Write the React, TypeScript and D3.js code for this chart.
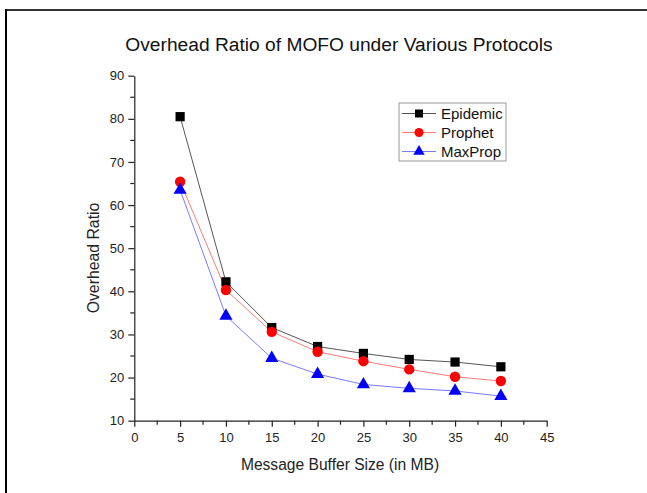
import React, { useEffect, useRef } from 'react';
import * as d3 from 'd3';

const bufferSizes = [5, 10, 15, 20, 25, 30, 35, 40];
const epidemic = [80.5, 42.2, 31.6, 27.2, 25.6, 24.2, 23.6, 22.5];
const prophet = [65.4, 40.3, 30.6, 26.0, 23.8, 21.9, 20.2, 19.2];
const maxProp = [63.5, 34.3, 24.5, 20.8, 18.4, 17.5, 16.9, 15.7];
const seriesNames = ['Epidemic', 'Prophet', 'MaxProp'];
const xTicks = [0, 5, 10, 15, 20, 25, 30, 35, 40, 45];
const yTicks = [10, 20, 30, 40, 50, 60, 70, 80, 90];

const App = () => {
  const ref = useRef<SVGSVGElement>(null);

  useEffect(() => {
    const svg = d3.select(ref.current);
    svg.selectAll('*').remove();
    const width = 647;
    const height = 493;
    const font = 'Liberation Sans, Arial, sans-serif';

    const x = d3.scaleLinear().domain([0, 45]).range([134.3, 546.7]);
    const y = d3.scaleLinear().domain([10, 90]).range([420.7, 75.7]);

    // outer frame (top + left only)
    svg.append('line').attr('x1', 5).attr('x2', width).attr('y1', 10).attr('y2', 10)
      .attr('stroke', '#333').attr('stroke-width', 2);
    svg.append('line').attr('x1', 6).attr('x2', 6).attr('y1', 9).attr('y2', height)
      .attr('stroke', '#000').attr('stroke-width', 2);

    svg.append('text').attr('x', 339).attr('y', 51).attr('text-anchor', 'middle')
      .attr('font-family', font).attr('font-size', 19.2).attr('fill', '#111')
      .text('Overhead Ratio of MOFO under Various Protocols');

    // minor ticks
    const g = svg.append('g').attr('stroke', '#222').attr('stroke-width', 1.2);
    d3.range(0, 45, 5).forEach((v) => {
      g.append('line').attr('x1', x(v + 2.5)).attr('x2', x(v + 2.5))
        .attr('y1', y(10)).attr('y2', y(10) + 4);
    });
    d3.range(10, 90, 10).forEach((v) => {
      g.append('line').attr('x1', x(0)).attr('x2', x(0) - 4)
        .attr('y1', y(v + 5)).attr('y2', y(v + 5));
    });

    const xAxis = svg.append('g').attr('transform', `translate(0,${y(10)})`)
      .call(d3.axisBottom(x).tickValues(xTicks).tickSize(6).tickSizeOuter(0).tickPadding(6));
    const yAxis = svg.append('g').attr('transform', `translate(${x(0)},0)`)
      .call(d3.axisLeft(y).tickValues(yTicks).tickSize(6).tickSizeOuter(0).tickPadding(4));
    [xAxis, yAxis].forEach((a) => {
      a.selectAll('text').attr('font-family', font).attr('font-size', 13).attr('fill', '#222');
      a.selectAll('line, path').attr('stroke', '#222').attr('stroke-width', 1.2);
    });

    svg.append('text').attr('x', 340).attr('y', 470).attr('text-anchor', 'middle')
      .attr('font-family', font).attr('font-size', 15.6).attr('fill', '#222')
      .text('Message Buffer Size (in MB)');
    svg.append('text').attr('transform', `translate(99,258) rotate(-90)`).attr('text-anchor', 'middle')
      .attr('font-family', font).attr('font-size', 15.8).attr('fill', '#222')
      .text('Overhead Ratio');

    const series = [
      { name: seriesNames[0], values: epidemic, line: '#555', fill: '#000', shape: d3.symbolSquare, size: 85 },
      { name: seriesNames[1], values: prophet, line: '#ff7a7a', fill: '#ff0000', shape: d3.symbolCircle, size: 85 },
      { name: seriesNames[2], values: maxProp, line: '#7a7aff', fill: '#0000ff', shape: d3.symbolTriangle, size: 75 },
    ];

    const line = d3.line<number>().x((d, i) => x(bufferSizes[i])).y((d) => y(d));

    series.forEach((s) => {
      svg.append('path').attr('d', line(s.values)).attr('fill', 'none')
        .attr('stroke', s.line).attr('stroke-width', 1);
    });
    series.forEach((s) => {
      svg.selectAll(null).data(s.values).enter().append('path')
        .attr('d', d3.symbol().type(s.shape).size(s.size)())
        .attr('transform', (d, i) => `translate(${x(bufferSizes[i])},${y(d)})`)
        .attr('fill', s.fill);
    });

    // legend
    const legend = svg.append('g').attr('transform', 'translate(399,103)');
    legend.append('rect').attr('width', 107).attr('height', 58)
      .attr('fill', '#fff').attr('stroke', '#999').attr('stroke-width', 1);
    series.forEach((s, i) => {
      const row = legend.append('g').attr('transform', `translate(0,${10.5 + i * 19})`);
      row.append('line').attr('x1', 3).attr('x2', 37).attr('stroke', s.line).attr('stroke-width', 1);
      row.append('path').attr('d', d3.symbol().type(s.shape).size(s.size * 0.75)())
        .attr('transform', 'translate(20,0)').attr('fill', s.fill);
      row.append('text').attr('x', 42).attr('dy', '0.35em')
        .attr('font-family', font).attr('font-size', 15).attr('fill', '#111').text(s.name);
    });
  }, []);

  return (
    <svg ref={ref} width={647} height={493}
      style={{ position: 'absolute', left: 0, top: 0, background: '#fff' }} />
  );
};

export default App;
